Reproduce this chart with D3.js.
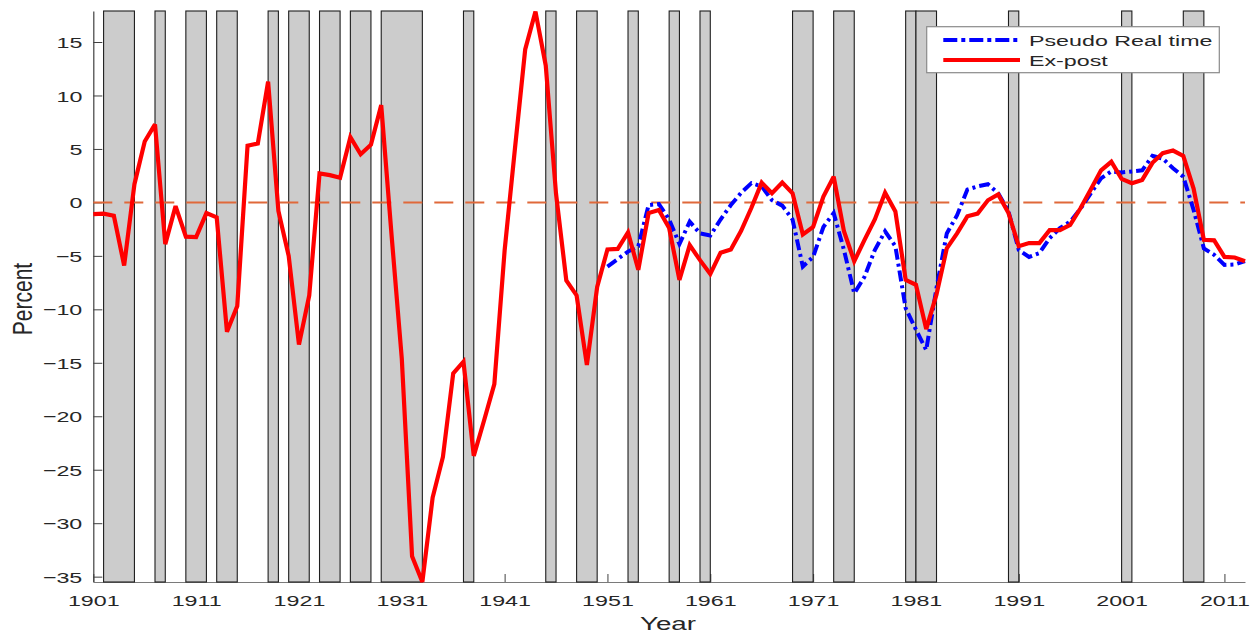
<!DOCTYPE html>
<html>
<head>
<meta charset="utf-8">
<script src="https://cdn.jsdelivr.net/npm/d3@7"></script>
<style>
  html, body { margin: 0; padding: 0; background: #fff; }
  svg { display: block; }
  text { font-family: "Liberation Sans", Arial, Helvetica, sans-serif; fill: #262626; }
</style>
</head>
<body>
<svg id="chart" width="1259" height="634"></svg>
<script>
// ---------------- DATA ----------------
const exPostStartYear = 1901;
const exPost = [
  -1.1, -1.05, -1.25, -5.9, 1.7, 5.7, 7.3, -3.9, -0.35, -3.2,          // 1901-1910
  -3.25, -1.0, -1.4, -12.1, -9.7, 5.3, 5.5, 11.3, -0.8, -5.0,          // 1911-1920
  -13.3, -8.7, 2.7, 2.55, 2.3, 6.1, 4.5, 5.4, 9.1, -3.0,               // 1921-1930
  -14.6, -33.1, -35.5, -27.6, -23.8, -16.0, -14.9, -23.7, -20.4, -17.0,// 1931-1940
  -4.5, 5.0, 14.3, 17.85, 12.8, 0.8, -7.3, -8.7, -15.2, -7.9,          // 1941-1950
  -4.4, -4.35, -2.8, -6.3, -1.0, -0.7, -2.4, -7.25, -4.0, -5.4,        // 1951-1960
  -6.7, -4.7, -4.4, -2.65, -0.5, 1.85, 0.85, 1.85, 0.85, -3.0,         // 1961-1970
  -2.3, 0.55, 2.4, -2.7, -5.5, -3.5, -1.6, 0.9, -0.85, -7.25,          // 1971-1980
  -7.7, -11.85, -8.6, -4.3, -2.9, -1.3, -1.05, 0.2, 0.75, -1.0,        // 1981-1990
  -4.1, -3.8, -3.8, -2.6, -2.6, -2.1, -0.55, 1.2, 3.0, 3.8,            // 1991-2000
  2.2, 1.8, 2.1, 3.7, 4.6, 4.85, 4.35, 1.3, -3.5, -3.55,               // 2001-2010
  -5.1, -5.15, -5.5                                                    // 2011-2013
];
const pseudoStartYear = 1951;
const pseudoRealTime = [
  -6.0, -5.3, -4.6, -4.1, -0.25, -0.15, -1.6, -3.9, -1.8, -2.9,        // 1951-1960
  -3.1, -1.6, -0.25, 0.9, 1.8, 1.5, 0.2, -0.3, -1.6, -6.0,             // 1961-1970
  -5.1, -2.3, -1.0, -4.45, -8.5, -6.95, -4.45, -2.7, -4.1, -9.9,       // 1971-1980
  -11.9, -13.8, -8.0, -2.9, -1.2, 1.2, 1.5, 1.7, 0.85, -0.85,          // 1981-1990
  -4.45, -5.1, -4.75, -3.35, -2.4, -1.8, -0.6, 0.85, 2.25, 2.9,        // 1991-2000
  2.8, 2.9, 3.0, 4.35, 4.1, 3.2, 2.4, -0.7, -4.3, -4.9,                // 2001-2010
  -5.85, -5.8, -5.5                                                    // 2011-2013
];
const recessionStarts = [1902, 1907, 1910, 1913, 1918, 1920, 1923, 1926, 1929, 1937, 1945, 1948, 1953, 1957, 1960, 1969, 1973, 1980, 1981, 1990, 2001, 2007];
const recessionEnds   = [1905, 1908, 1912, 1915, 1919, 1922, 1925, 1928, 1933, 1938, 1946, 1950, 1954, 1958, 1961, 1971, 1975, 1981, 1983, 1991, 2002, 2009];
const xTickValues = [1901, 1911, 1921, 1931, 1941, 1951, 1961, 1971, 1981, 1991, 2001, 2011];
const yTickValues = [15, 10, 5, 0, -5, -10, -15, -20, -25, -30, -35];
const seriesNames = ["Pseudo Real time", "Ex-post"];
const xDomain = [1901, 2013];
const yDomain = [-35.5, 17.9];

// ---------------- LAYOUT ----------------
const svg = d3.select("#chart");
const L = 93.3, R = 1245, T = 11, B = 582;
const SX = 1.5; // horizontal text stretch seen in the reference

const x = d3.scaleLinear().domain(xDomain).range([L, R]);
const y = d3.scaleLinear().domain(yDomain).range([B, T]);

// axes (drawn first so bars cover ticks)
const yAxis = svg.append("g")
  .attr("transform", `translate(${L},0)`)
  .call(d3.axisLeft(y).tickValues(yTickValues).tickSizeInner(-9).tickSizeOuter(0).tickFormat(d3.format("d")));
yAxis.select(".domain").attr("stroke", "#404040").attr("stroke-width", 1.2);
yAxis.selectAll(".tick line").attr("stroke", "#404040").attr("stroke-width", 1);
yAxis.selectAll(".tick text")
  .attr("x", -11 / SX).attr("dy", "0.36em")
  .attr("transform", `scale(${SX},1)`)
  .style("font-size", "15.5px").style("font-family", "'Liberation Sans', Arial, sans-serif")
  .attr("fill", "#262626");

const xAxis = svg.append("g")
  .attr("transform", `translate(0,${B})`)
  .call(d3.axisBottom(x).tickValues(xTickValues).tickSizeInner(-8).tickSizeOuter(0).tickFormat(d3.format("d")));
xAxis.select(".domain").attr("stroke", "#7a7a7a").attr("stroke-width", 1.2);
xAxis.selectAll(".tick line").attr("stroke", "#404040").attr("stroke-width", 1);
xAxis.selectAll(".tick text")
  .attr("y", 24).attr("dy", 0)
  .attr("transform", `scale(${SX},1)`)
  .style("font-size", "15.5px").style("font-family", "'Liberation Sans', Arial, sans-serif")
  .attr("fill", "#262626");
// keep stretched x labels centred on the tick
xAxis.selectAll(".tick text").attr("x", 0);

// recession bars
const bars = recessionStarts.map((s, i) => ({ s, e: recessionEnds[i] }));
svg.append("g").selectAll("rect").data(bars).join("rect")
  .attr("x", d => x(d.s))
  .attr("width", d => x(d.e) - x(d.s))
  .attr("y", T)
  .attr("height", B - T)
  .attr("fill", "#cccccc")
  .attr("stroke", "#1e1e1e")
  .attr("stroke-width", 1.1);

// zero line
svg.append("line")
  .attr("x1", L).attr("x2", R)
  .attr("y1", y(0)).attr("y2", y(0))
  .attr("stroke", "#E0693A").attr("stroke-width", 2)
  .attr("stroke-dasharray", "19,12");

// series
const line = d3.line().x(d => x(d.year)).y(d => y(d.v));
const pseudoData = pseudoRealTime.map((v, i) => ({ year: pseudoStartYear + i, v }));
const expostData = exPost.map((v, i) => ({ year: exPostStartYear + i, v }));

svg.append("path").datum(pseudoData)
  .attr("d", line).attr("fill", "none")
  .attr("stroke", "#0000FF").attr("stroke-width", 4)
  .attr("stroke-dasharray", "11,4,3,4");

svg.append("path").datum(expostData)
  .attr("d", line).attr("fill", "none")
  .attr("stroke", "#FF0000").attr("stroke-width", 4.2)
  .attr("stroke-linejoin", "miter").attr("stroke-miterlimit", 3);

// legend
const lg = svg.append("g");
lg.append("rect")
  .attr("x", 926.7).attr("y", 26.7).attr("width", 292.6).attr("height", 46)
  .attr("fill", "#fff").attr("stroke", "#8a8a8a").attr("stroke-width", 1.2);
const legendRows = [
  { name: seriesNames[0], color: "#0000FF", dash: "14,4,4,4", yy: 40 },
  { name: seriesNames[1], color: "#FF0000", dash: null, yy: 60 }
];
legendRows.forEach(r => {
  lg.append("line")
    .attr("x1", 943.3).attr("x2", 1020).attr("y1", r.yy).attr("y2", r.yy)
    .attr("stroke", r.color).attr("stroke-width", 4)
    .attr("stroke-dasharray", r.dash);
  lg.append("text")
    .attr("transform", `translate(1029,${r.yy + 5.5}) scale(${SX},1)`)
    .style("font-size", "15.5px")
    .attr("fill", "#111")
    .text(r.name);
});

// axis titles
svg.append("text")
  .attr("transform", `translate(668,630) scale(${SX},1)`)
  .attr("text-anchor", "middle")
  .style("font-size", "18.5px")
  .attr("fill", "#262626")
  .text("Year");

svg.append("text")
  .attr("transform", `translate(31.5,299) scale(1.3,1) rotate(-90)`)
  .attr("text-anchor", "middle")
  .style("font-size", "21px")
  .attr("fill", "#262626")
  .text("Percent");
</script>
</body>
</html>
